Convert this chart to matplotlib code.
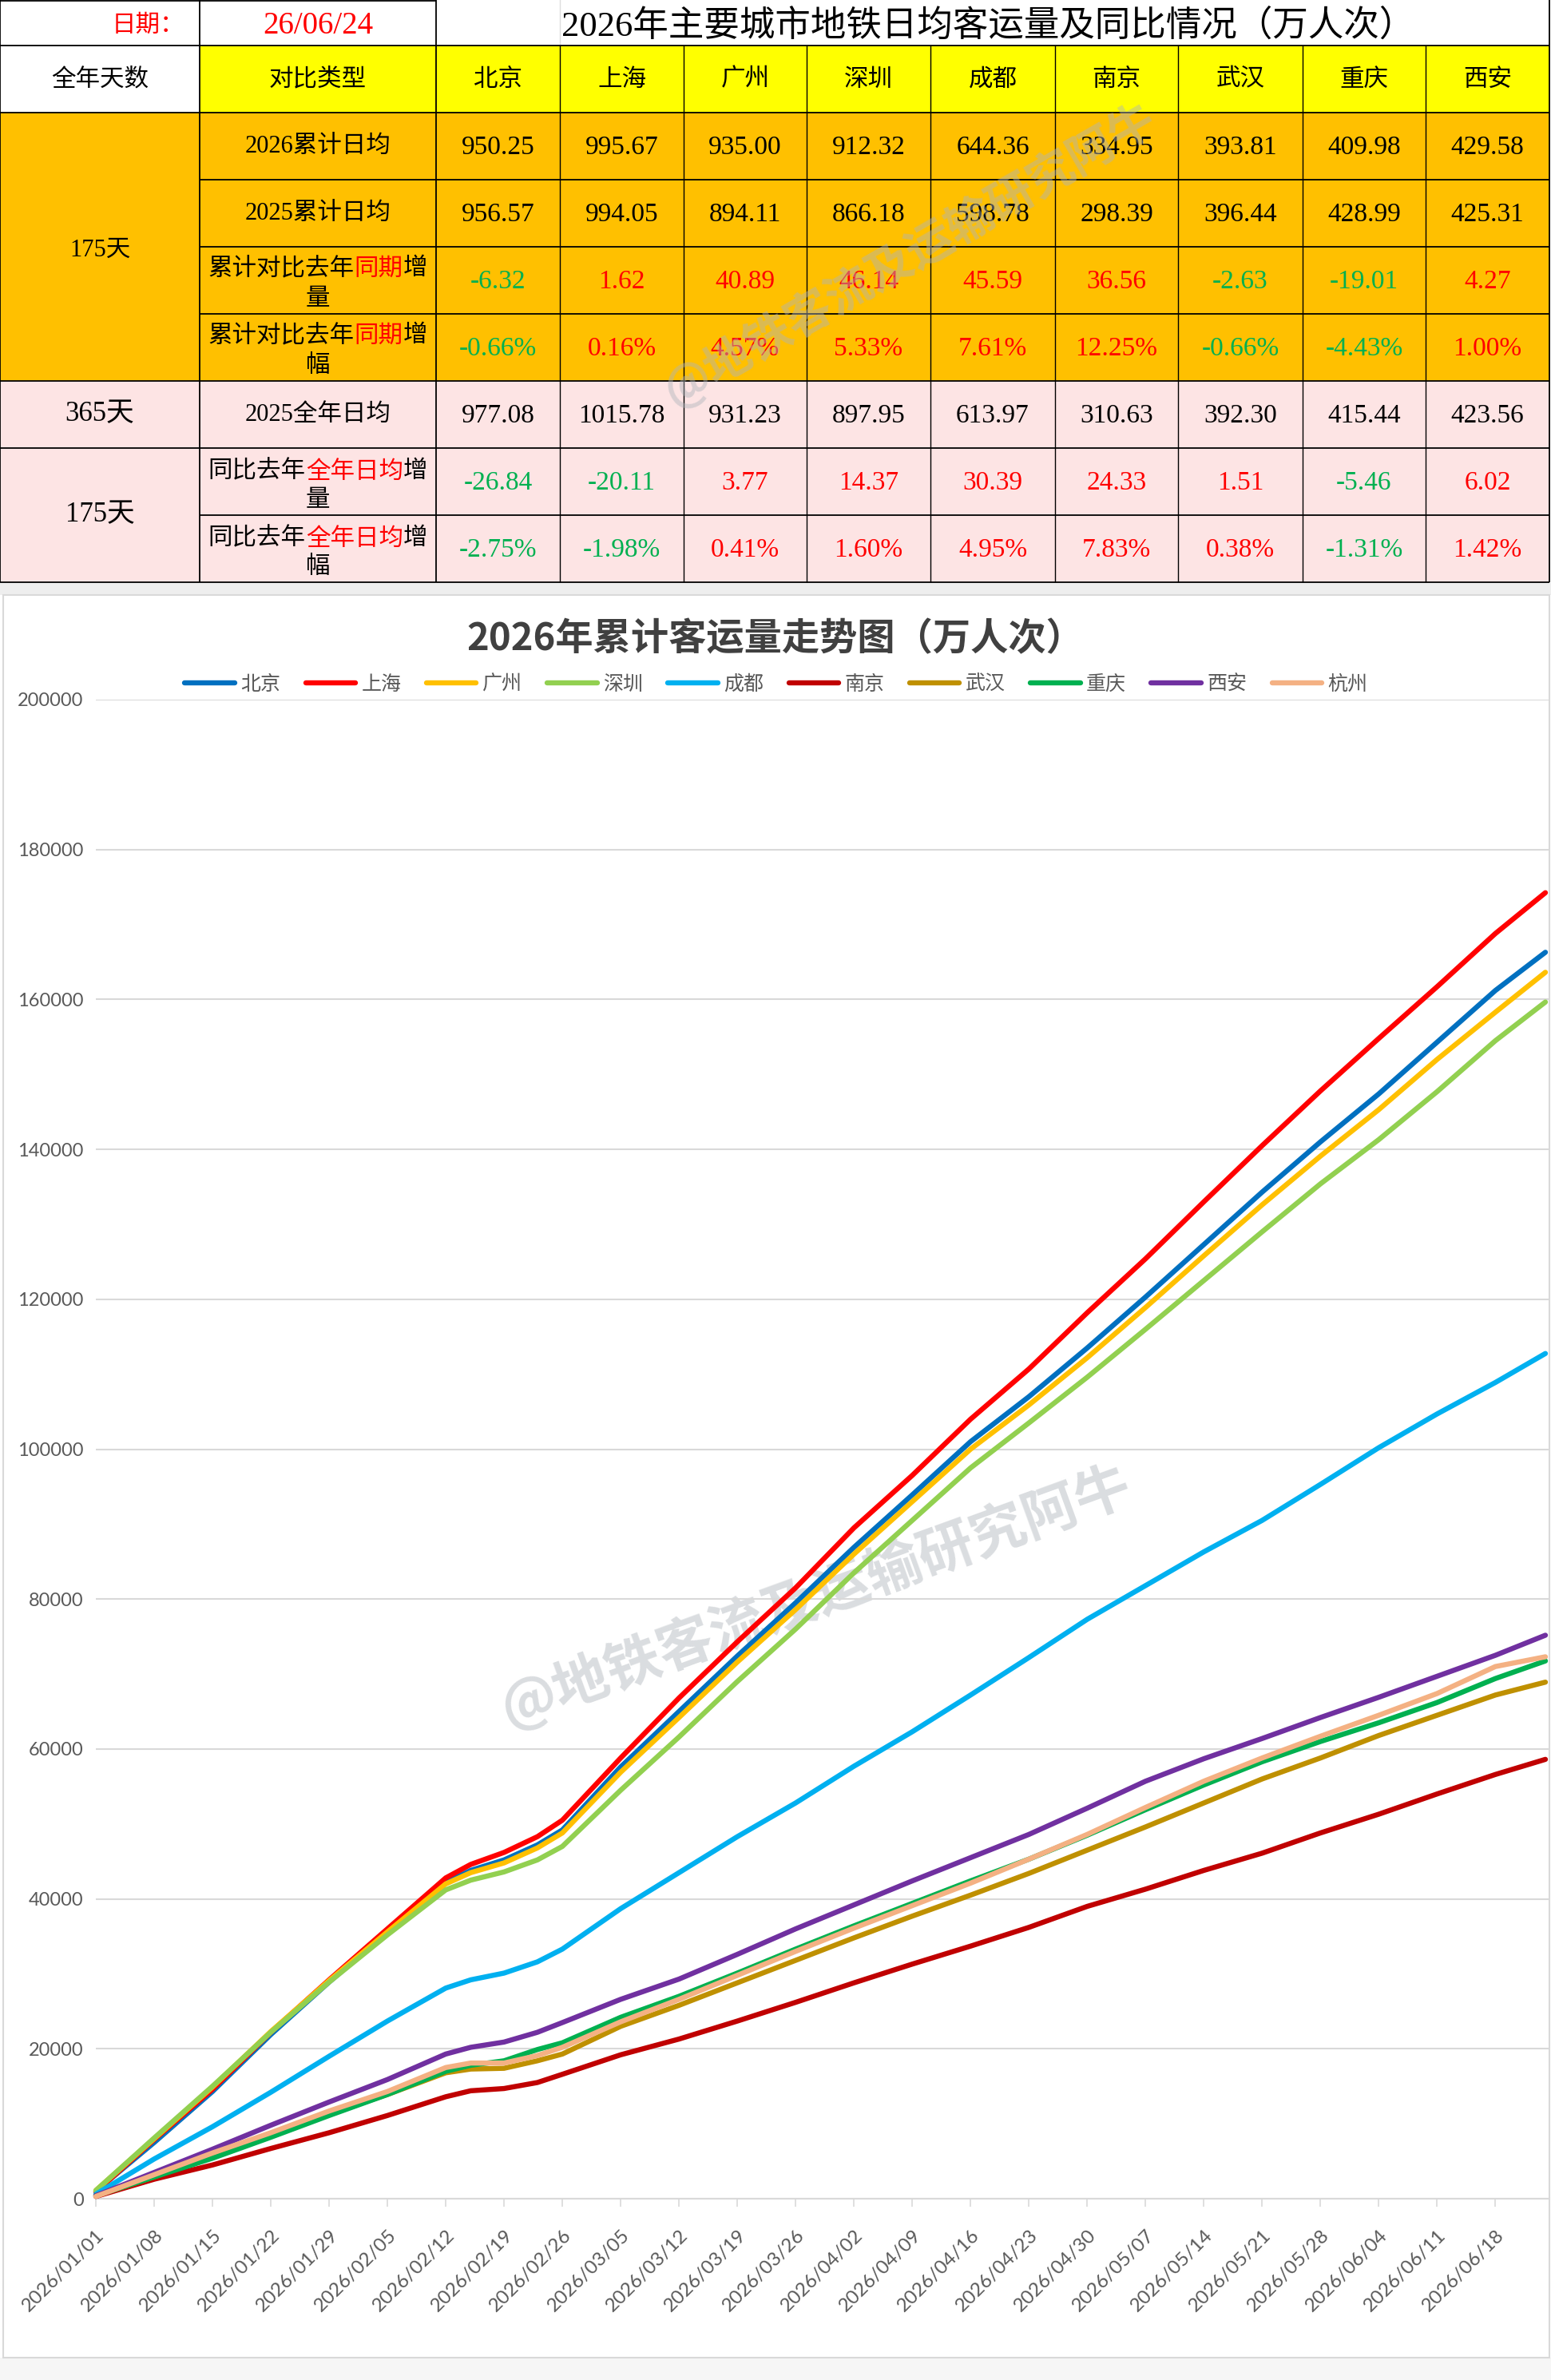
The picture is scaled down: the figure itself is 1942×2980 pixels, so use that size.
import matplotlib
matplotlib.use('Agg')
import matplotlib.pyplot as plt
from matplotlib.patches import Rectangle

plt.rcParams['font.family'] = ['Noto Sans CJK SC', 'DejaVu Sans']

# ---------------- 表格数据 ----------------
tbl_cities = ['北京', '上海', '广州', '深圳', '成都', '南京', '武汉', '重庆', '西安']
avg_2026 = [950.25, 995.67, 935.00, 912.32, 644.36, 334.95, 393.81, 409.98, 429.58]
avg_2025_ytd = [956.57, 994.05, 894.11, 866.18, 598.78, 298.39, 396.44, 428.99, 425.31]
diff_ytd = [-6.32, 1.62, 40.89, 46.14, 45.59, 36.56, -2.63, -19.01, 4.27]
pct_ytd = [-0.66, 0.16, 4.57, 5.33, 7.61, 12.25, -0.66, -4.43, 1.00]
avg_2025_full = [977.08, 1015.78, 931.23, 897.95, 613.97, 310.63, 392.30, 415.44, 423.56]
diff_full = [-26.84, -20.11, 3.77, 14.37, 30.39, 24.33, 1.51, -5.46, 6.02]
pct_full = [-2.75, -1.98, 0.41, 1.60, 4.95, 7.83, 0.38, -1.31, 1.42]

# ---------------- 折线图数据（累计，万人次） ----------------
cities = ['北京', '上海', '广州', '深圳', '成都', '南京', '武汉', '重庆', '西安', '杭州']
colors = ['#0070C0', '#FF0000', '#FFC000', '#92D050', '#00B0F0',
          '#C00000', '#BF9000', '#00B050', '#7030A0', '#F4B183']
days = [0, 7, 14, 21, 28, 35, 42, 45, 49, 53, 56, 63, 70, 77, 84, 91, 98,
        105, 112, 119, 126, 133, 140, 147, 154, 161, 168, 174]
bj = [1000, 7500, 14300, 21900, 28900, 35500, 42200, 43800, 45200, 47200, 49200, 57600, 65000, 72400,
      79500, 86900, 93900, 101000, 107000, 113500, 120300, 127300, 134300, 141000, 147400, 154300, 161200, 166294]
sh = [900, 7900, 14600, 22200, 29200, 36000, 42800, 44600, 46200, 48300, 50500, 58800, 66800, 74300,
      81500, 89500, 96500, 104000, 110700, 118200, 125400, 133000, 140500, 147800, 154800, 161700, 168800, 174242]
gz = [1100, 8000, 14900, 22300, 29100, 35600, 42000, 43500, 44800, 46800, 48800, 56900, 64200, 71600,
      78600, 86000, 93000, 100000, 105900, 112200, 118900, 125800, 132600, 139100, 145300, 152000, 158300, 163625]
sz = [1100, 8100, 15000, 22200, 28900, 35200, 41200, 42500, 43600, 45200, 47000, 54500, 61600, 69000,
      76000, 83500, 90500, 97500, 103500, 109600, 116000, 122500, 129000, 135400, 141300, 147700, 154500, 159656]
cd = [600, 5300, 9600, 14200, 19000, 23700, 28100, 29200, 30100, 31600, 33300, 38700, 43500, 48300,
      52800, 57700, 62300, 67200, 72200, 77300, 81800, 86300, 90500, 95300, 100200, 104700, 108900, 112763]
nj = [300, 2600, 4500, 6700, 8800, 11100, 13600, 14400, 14700, 15500, 16600, 19200, 21300, 23700,
      26200, 28800, 31300, 33700, 36200, 39000, 41300, 43800, 46100, 48800, 51300, 54000, 56600, 58616]
wh = [400, 2900, 5800, 8500, 11300, 13900, 16800, 17300, 17400, 18400, 19300, 23000, 25800, 28800,
      31800, 34800, 37700, 40500, 43400, 46500, 49600, 52800, 56000, 58800, 61800, 64500, 67200, 68917]
cq = [400, 2900, 5400, 8200, 11100, 13900, 17000, 17800, 18400, 19900, 20800, 24200, 27000, 30100,
      33300, 36400, 39400, 42400, 45300, 48500, 51900, 55200, 58300, 61000, 63500, 66200, 69400, 71747]
xa = [400, 3500, 6600, 9800, 12900, 15900, 19300, 20200, 20900, 22200, 23500, 26600, 29300, 32600,
      36000, 39200, 42400, 45500, 48600, 52100, 55700, 58700, 61400, 64200, 66900, 69700, 72500, 75177]
hz = [300, 3200, 6100, 8800, 11700, 14300, 17500, 18100, 18100, 19100, 20200, 23600, 26600, 29800,
      33000, 36100, 39100, 42100, 45300, 48600, 52200, 55700, 58800, 61700, 64500, 67400, 71000, 72300]
series = [bj, sh, gz, sz, cd, nj, wh, cq, xa, hz]

tick_days = list(range(0, 169, 7))
tick_labels = ['2026/01/01', '2026/01/08', '2026/01/15', '2026/01/22', '2026/01/29', '2026/02/05',
               '2026/02/12', '2026/02/19', '2026/02/26', '2026/03/05', '2026/03/12', '2026/03/19',
               '2026/03/26', '2026/04/02', '2026/04/09', '2026/04/16', '2026/04/23', '2026/04/30',
               '2026/05/07', '2026/05/14', '2026/05/21', '2026/05/28', '2026/06/04', '2026/06/11',
               '2026/06/18']

W, H = 1942, 2980
fig = plt.figure(figsize=(W / 100, H / 100), dpi=100)

# 背景层（像素坐标）
bg = fig.add_axes([0, 0, 1, 1])
bg.set_xlim(0, W)
bg.set_ylim(H, 0)
bg.axis('off')

RED = '#FF0000'
GREEN = '#00B050'
ORANGE = '#FFC000'
YELLOW = '#FFFF00'
PINK = '#FDE4E4'
NUMFONT = ['Liberation Serif', 'Noto Sans CJK SC']

col_x = [0, 250, 546, 701, 856, 1010, 1165, 1321, 1475, 1631, 1785, 1940]
row_y = [0, 57, 141, 225, 309, 393, 477, 561, 645, 729]


def cell(x0, x1, y0, y1, fc):
    bg.add_patch(Rectangle((x0, y0), x1 - x0, y1 - y0, facecolor=fc, edgecolor='none', zorder=1))


def hline(y, x0, x1, lw=1.3):
    bg.plot([x0, x1], [y, y], color='black', lw=lw, zorder=3, solid_capstyle='butt')


def vline(x, y0, y1, lw=1.3):
    bg.plot([x, x], [y0, y1], color='black', lw=lw, zorder=3, solid_capstyle='butt')


def seg_text(xc, yc, segs, size=22):
    # CJK 全角字符宽度 = 1 em
    em = size * 100 / 72
    n = sum(len(t) for t, c in segs)
    x = xc - n * em / 2
    for t, c in segs:
        bg.text(x, yc, t, ha='left', va='center', color=c, fontsize=size, zorder=4)
        x += len(t) * em


# 填充
cell(0, W, 0, row_y[1], 'white')
cell(0, col_x[1], row_y[1], row_y[2], 'white')
cell(col_x[1], col_x[-1], row_y[1], row_y[2], YELLOW)
cell(0, col_x[-1], row_y[2], row_y[6], ORANGE)
cell(0, col_x[-1], row_y[6], row_y[9], PINK)
cell(0, W, row_y[9], 745, '#EEEEEE')
cell(0, W, 2952, H, '#F6F6F6')

# 表格线
hline(1, 0, col_x[2])
for y in [row_y[1], row_y[2], row_y[6], row_y[7], row_y[9]]:
    hline(y, 0, col_x[-1])
for y in [row_y[3], row_y[4], row_y[5], row_y[8]]:
    hline(y, col_x[1], col_x[-1])
for x in [0, col_x[1], col_x[2], col_x[-1]]:
    vline(x, 0, row_y[9])
for x in col_x[3:-1]:
    vline(x, row_y[1], row_y[9], lw=1.0)
bg.plot([col_x[3], col_x[3]], [0, row_y[1]], color='#DDDDDD', lw=1, zorder=2)

# 第一行
bg.text(185, 31, '日期：', ha='center', va='center', color=RED, fontsize=22, zorder=4)
bg.text(398, 32, '26/06/24', ha='center', va='center', color=RED, fontsize=28,
        family=NUMFONT, zorder=4)
bg.text(1237, 33, '2026年主要城市地铁日均客运量及同比情况（万人次）', ha='center', va='center',
        color='black', fontsize=32, family=NUMFONT, zorder=4)

# 表头
ymid = lambda i: (row_y[i] + row_y[i + 1]) / 2
xmid = lambda j: (col_x[j] + col_x[j + 1]) / 2
bg.text(125, ymid(1), '全年天数', ha='center', va='center', fontsize=22, zorder=4)
bg.text(xmid(1), ymid(1), '对比类型', ha='center', va='center', fontsize=22, zorder=4)
for j, c in enumerate(tbl_cities):
    bg.text(xmid(j + 2), ymid(1), c, ha='center', va='center', fontsize=22, zorder=4)

# 第一列
bg.text(125, (row_y[2] + row_y[6]) / 2 + 4, '175天', ha='center', va='center', fontsize=22,
        family=NUMFONT, zorder=4)
bg.text(125, ymid(6), '365天', ha='center', va='center', fontsize=25, family=NUMFONT, zorder=4)
bg.text(125, (row_y[7] + row_y[9]) / 2, '175天', ha='center', va='center', fontsize=25,
        family=NUMFONT, zorder=4)

# 第二列
bg.text(xmid(1), ymid(2), '2026累计日均', ha='center', va='center', fontsize=22, family=NUMFONT, zorder=4)
bg.text(xmid(1), ymid(3), '2025累计日均', ha='center', va='center', fontsize=22, family=NUMFONT, zorder=4)
bg.text(xmid(1), ymid(6), '2025全年日均', ha='center', va='center', fontsize=22, family=NUMFONT, zorder=4)
for i, last in [(4, '量'), (5, '幅')]:
    seg_text(xmid(1), row_y[i] + 27, [('累计对比去年', 'black'), ('同期', RED), ('增', 'black')])
    seg_text(xmid(1), row_y[i] + 65, [(last, 'black')])
for i, last in [(7, '量'), (8, '幅')]:
    seg_text(xmid(1), row_y[i] + 29, [('同比去年', 'black'), ('全年日均', RED), ('增', 'black')])
    seg_text(xmid(1), row_y[i] + 65, [(last, 'black')])


def num_row(i, vals, signed=False, pct=False):
    for j, v in enumerate(vals):
        s = f'{v:.2f}' + ('%' if pct else '')
        col = 'black'
        if signed:
            col = GREEN if v < 0 else RED
        bg.text(xmid(j + 2), ymid(i) + 2, s, ha='center', va='center', color=col,
                fontsize=24, family=NUMFONT, zorder=4)


num_row(2, avg_2026)
num_row(3, avg_2025_ytd)
num_row(4, diff_ytd, signed=True)
num_row(5, pct_ytd, signed=True, pct=True)
num_row(6, avg_2025_full)
num_row(7, diff_full, signed=True)
num_row(8, pct_full, signed=True, pct=True)

# 图表外框
bg.add_patch(Rectangle((4, 745), 1936, 2207, facecolor='white', edgecolor='#D9D9D9', lw=1.5, zorder=1))

# 水印
wm = '@地铁客流及运输研究阿牛'
bg.text(1140, 320, wm, ha='center', va='center', rotation=30, fontsize=42, fontweight='bold',
        color='#AEB4BA', alpha=0.45, zorder=5)
bg.text(1021, 2000, wm, ha='center', va='center', rotation=20, fontsize=50, fontweight='bold',
        color='#AEB4BA', alpha=0.45, zorder=5)

# ---------------- 折线图 ----------------
ax = fig.add_axes([120 / W, 1 - 2753 / H, 1820 / W, 1877 / H])
ax.set_facecolor('none')
lines = []
for name, col, vals in zip(cities, colors, series):
    ln, = ax.plot(days, vals, color=col, lw=4.6, label=name, solid_capstyle='round',
                  solid_joinstyle='round', clip_on=False, zorder=3)
    lines.append(ln)

ax.set_xlim(0, 174.48)
ax.set_ylim(0, 200000)
ax.set_yticks(range(0, 200001, 20000))
ax.set_yticklabels([str(v) for v in range(0, 200001, 20000)], family=['Lato', 'DejaVu Sans'],
                   fontsize=17, color='#595959')
ax.grid(axis='y', color='#D9D9D9', lw=1.5)
ax.set_axisbelow(True)
ax.set_xticks(tick_days)
ax.set_xticklabels(tick_labels, rotation=45, ha='right', va='top', rotation_mode='anchor',
                   family=['Lato', 'DejaVu Sans'], fontsize=17.5, color='#595959')
ax.tick_params(axis='x', length=7, width=1.2, color='#D9D9D9', pad=18)
ax.tick_params(axis='y', length=0, pad=11)
for side in ['top', 'right', 'left']:
    ax.spines[side].set_visible(False)
ax.spines['bottom'].set_color('#D9D9D9')
ax.spines['bottom'].set_linewidth(1.5)

fig.text(971 / W, 1 - 800 / H, '2026年累计客运量走势图（万人次）', ha='center', va='center',
         fontsize=34, fontweight='bold', color='#404040')
fig.legend(handles=lines, loc='center', bbox_to_anchor=(972 / W, 1 - 857 / H), ncol=10,
           frameon=False, fontsize=18, handlelength=2.5, handletextpad=0.3, columnspacing=1.25,
           labelcolor='#595959')

fig.savefig('out.png', dpi=100)
